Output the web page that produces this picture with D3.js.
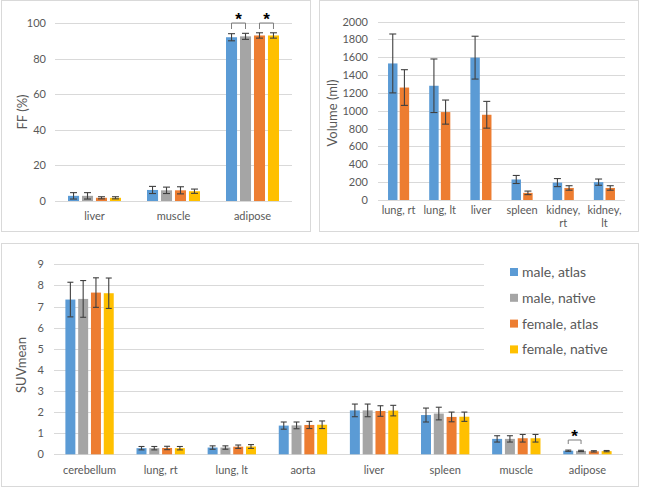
<!DOCTYPE html>
<html><head><meta charset="utf-8">
<script src="https://cdn.jsdelivr.net/npm/d3@7/dist/d3.min.js"></script>
<style>
html,body{margin:0;padding:0;background:#fff;}
svg{display:block;font-family:Lato,"Liberation Sans",sans-serif;}
</style></head>
<body>
<svg id="chart" width="660" height="488"></svg>
<script>
// ---------- data ----------
const seriesNames = ["male, atlas", "male, native", "female, atlas", "female, native"];
const seriesColors = ["#5B9BD5", "#A5A5A5", "#ED7D31", "#FFC000"];

// Panel A: fat fraction
const ffCategories = ["liver", "muscle", "adipose"];
const ffTicks = [0, 20, 40, 60, 80, 100];
const ffMaleAtlas     = [2.9, 6.2, 92.0];
const ffMaleNative    = [2.9, 6.0, 92.5];
const ffFemaleAtlas   = [1.8, 6.0, 93.0];
const ffFemaleNative  = [1.8, 5.5, 93.0];
const ffErrMaleAtlas    = [1.8, 2.0, 2.0];
const ffErrMaleNative   = [1.8, 1.8, 1.7];
const ffErrFemaleAtlas  = [0.6, 2.0, 1.5];
const ffErrFemaleNative = [0.6, 1.2, 1.5];

// Panel B: organ volume
const volCategories = [["lung, rt"], ["lung, lt"], ["liver"], ["spleen"], ["kidney,", "rt"], ["kidney,", "lt"]];
const volTicks = [0, 200, 400, 600, 800, 1000, 1200, 1400, 1600, 1800, 2000];
const volMale     = [1530, 1280, 1595, 230, 195, 200];
const volFemale   = [1260, 985, 955, 80, 135, 135];
const volErrMale  = [330, 300, 240, 45, 45, 35];
const volErrFemale= [200, 135, 150, 20, 25, 25];

// Panel C: SUVmean
const suvCategories = ["cerebellum", "lung, rt", "lung, lt", "aorta", "liver", "spleen", "muscle", "adipose"];
const suvTicks = [0, 1, 2, 3, 4, 5, 6, 7, 8, 9];
const suvMaleAtlas     = [7.33, 0.29, 0.32, 1.36, 2.08, 1.86, 0.73, 0.17];
const suvMaleNative    = [7.36, 0.29, 0.32, 1.37, 2.08, 1.93, 0.73, 0.16];
const suvFemaleAtlas   = [7.66, 0.30, 0.36, 1.39, 2.05, 1.77, 0.76, 0.14];
const suvFemaleNative  = [7.63, 0.29, 0.37, 1.40, 2.07, 1.78, 0.76, 0.15];
const suvErrMaleAtlas    = [0.82, 0.08, 0.08, 0.17, 0.30, 0.33, 0.15, 0.03];
const suvErrMaleNative   = [0.87, 0.08, 0.08, 0.16, 0.30, 0.30, 0.15, 0.03];
const suvErrFemaleAtlas  = [0.70, 0.08, 0.08, 0.17, 0.25, 0.23, 0.18, 0.03];
const suvErrFemaleNative = [0.72, 0.08, 0.09, 0.18, 0.25, 0.22, 0.18, 0.03];

// significance brackets: [category index, series a, series b]
const ffSig  = [[2, 0, 1], [2, 2, 3]];
const suvSig = [[7, 0, 1]];

// ---------- drawing ----------
const svg = d3.select("#chart");
const textColor = "#595959";
const gridColor = "#D9D9D9";
const errColor = "#404040";

function panelBox(x0, y0, x1, y1) {
  svg.append("rect").attr("x", x0 + 0.5).attr("y", y0 + 0.5)
    .attr("width", x1 - x0).attr("height", y1 - y0)
    .attr("fill", "#fff").attr("stroke", gridColor).attr("stroke-width", 1);
}

function barPanel(cfg) {
  const g = svg.append("g");
  const x0 = d3.scaleBand().domain(d3.range(cfg.cats.length)).range([cfg.left, cfg.right]);
  const x1 = d3.scaleBand().domain(d3.range(cfg.values.length)).range([0, x0.bandwidth()])
    .paddingInner(cfg.pIn).paddingOuter(cfg.pOut);
  const y = d3.scaleLinear().domain([cfg.ticks[0], cfg.ticks[cfg.ticks.length - 1]]).range([cfg.bottom, cfg.top]);

  // gridlines
  const gridRight = cfg.gridRight || (() => cfg.right);
  g.append("g").selectAll("line").data(cfg.ticks).join("line")
    .attr("x1", cfg.left).attr("x2", d => gridRight(d))
    .attr("y1", d => Math.round(y(d)) + 0.5).attr("y2", d => Math.round(y(d)) + 0.5)
    .attr("stroke", gridColor).attr("stroke-width", 1);

  // y axis labels
  const yAxis = d3.axisLeft(y).tickValues(cfg.ticks).tickSize(0).tickPadding(cfg.tickPad)
    .tickFormat(d3.format("d"));
  const ya = g.append("g").attr("transform", `translate(${cfg.left},0)`).call(yAxis);
  ya.select(".domain").remove();
  ya.selectAll("text").attr("fill", textColor).style("font-size", "11px").style("font-family", "Lato");

  // bars
  cfg.values.forEach((vals, s) => {
    g.append("g").selectAll("rect").data(vals).join("rect")
      .attr("x", (d, i) => x0(i) + x1(s))
      .attr("width", x1.bandwidth())
      .attr("y", d => y(d))
      .attr("height", d => y(0) - y(d))
      .attr("fill", cfg.colors[s]);
  });
  // error bars
  cfg.values.forEach((vals, s) => {
    const eg = g.append("g").attr("stroke", errColor).attr("stroke-width", 1.1);
    vals.forEach((v, i) => {
      const cx = x0(i) + x1(s) + x1.bandwidth() / 2;
      const e = cfg.errs[s][i];
      const hw = cfg.cap;
      eg.append("line").attr("x1", cx).attr("x2", cx).attr("y1", y(v + e)).attr("y2", y(v - e));
      eg.append("line").attr("x1", cx - hw).attr("x2", cx + hw).attr("y1", y(v + e)).attr("y2", y(v + e));
      eg.append("line").attr("x1", cx - hw).attr("x2", cx + hw).attr("y1", y(v - e)).attr("y2", y(v - e));
    });
  });

  // x labels
  cfg.cats.forEach((lab, i) => {
    const lines = Array.isArray(lab) ? lab : [lab];
    const t = g.append("text").attr("x", x0(i) + x0.bandwidth() / 2).attr("y", cfg.labelY)
      .attr("text-anchor", "middle").attr("fill", textColor).style("font-size", "11px");
    lines.forEach((ln, k) => t.append("tspan").attr("x", x0(i) + x0.bandwidth() / 2).attr("dy", k === 0 ? 0 : 13).text(ln));
  });

  // y title
  g.append("text").attr("transform", `translate(${cfg.titleX},${cfg.titleY}) rotate(-90)`)
    .attr("text-anchor", "middle").attr("fill", textColor).style("font-size", "13px").text(cfg.title);

  // significance brackets
  (cfg.sig || []).forEach(([ci, a, b]) => {
    const xa = x0(ci) + x1(a) + x1.bandwidth() / 2;
    const xb = x0(ci) + x1(b) + x1.bandwidth() / 2;
    const top = cfg.sigTop(ci);
    g.append("path").attr("d", `M${xa},${top + cfg.sigLeg}V${top}H${xb}V${top + cfg.sigLeg}`)
      .attr("fill", "none").attr("stroke", "#7F7F7F").attr("stroke-width", 1);
    g.append("text").attr("x", (xa + xb) / 2).attr("y", top + 2).attr("text-anchor", "middle")
      .style("font-size", "17px").style("font-weight", "bold").style("font-family", "Liberation Sans").attr("fill", "#000").text("*");
  });
  return {x0, x1, y};
}

// panel boxes
panelBox(1, 0, 310, 231);
panelBox(319, 0, 638, 231);
panelBox(1, 243, 638, 486);

// Panel A
barPanel({
  cats: ffCategories, ticks: ffTicks,
  values: [ffMaleAtlas, ffMaleNative, ffFemaleAtlas, ffFemaleNative],
  errs: [ffErrMaleAtlas, ffErrMaleNative, ffErrFemaleAtlas, ffErrFemaleNative],
  colors: seriesColors,
  left: 55, right: 292, top: 23, bottom: 201,
  pIn: 0.21, pOut: 0.93, cap: 3.5, tickPad: 9,
  labelY: 220, title: "FF (%)", titleX: 27, titleY: 112,
  sig: ffSig, sigTop: () => 23, sigLeg: 6
});

// Panel B
barPanel({
  cats: volCategories, ticks: volTicks,
  values: [volMale, volFemale],
  errs: [volErrMale, volErrFemale],
  colors: [seriesColors[0], seriesColors[2]],
  left: 378, right: 625, top: 21.5, bottom: 200,
  pIn: 0.19, pOut: 0.86, cap: 3.5, tickPad: 10,
  labelY: 214, title: "Volume (ml)", titleX: 337, titleY: 113
});

// Panel C
const legendRight = 484;
barPanel({
  cats: suvCategories, ticks: suvTicks,
  values: [suvMaleAtlas, suvMaleNative, suvFemaleAtlas, suvFemaleNative],
  errs: [suvErrMaleAtlas, suvErrMaleNative, suvErrFemaleAtlas, suvErrFemaleNative],
  colors: seriesColors,
  left: 54, right: 623, top: 264.3, bottom: 454.3,
  pIn: 0.22, pOut: 0.89, cap: 3, tickPad: 10,
  gridRight: d => (d >= 5 ? legendRight : 623),
  labelY: 474, title: "SUVmean", titleX: 26, titleY: 365,
  sig: suvSig, sigTop: () => 440, sigLeg: 4
});

// legend
const lg = svg.append("g");
seriesNames.forEach((name, i) => {
  const yy = 272 + i * 25.8;
  lg.append("rect").attr("x", 510).attr("y", yy - 4).attr("width", 8).attr("height", 8).attr("fill", seriesColors[i]);
  lg.append("text").attr("x", 522).attr("y", yy + 5).attr("fill", textColor).style("font-size", "14px").text(name);
});
</script>
</body></html>
